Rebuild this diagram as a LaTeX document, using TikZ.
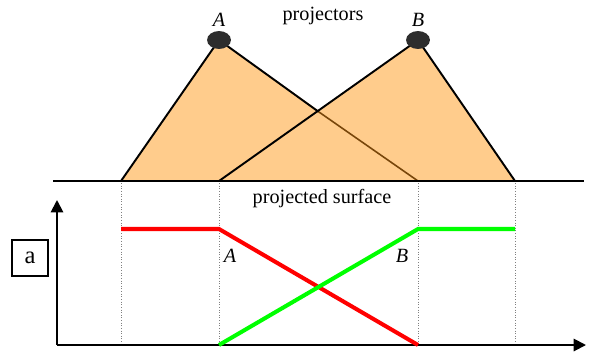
\documentclass[tikz,border=0pt]{standalone}
\usepackage{fontspec}
\setmainfont{Liberation Serif}
\usepackage{xcolor}
\usepackage{tikz}
\usetikzlibrary{calc,arrows.meta,positioning,shapes}
\definecolor{beam}{RGB}{255,204,140}
\definecolor{beamline}{RGB}{120,70,10}
\definecolor{lamp}{RGB}{45,45,45}

\begin{document}
\begin{tikzpicture}[x=0.02cm,y=-0.02cm,
    edge/.style={line width=1.1pt,line join=round},
    guide/.style={densely dotted,gray,line width=0.5pt},
    ramp/.style={line width=2.3pt},
    axis/.style={line width=1.1pt,-{Triangle[length=7pt,width=7pt]}},
    lbl/.style={font=\fontsize{11.5}{13}\selectfont}]
      \useasboundingbox (0,0) rectangle (597,358);
      % projectors and their beams
      \coordinate (pA) at (219,40);
      \coordinate (pB) at (418,40);
      \coordinate (s1) at (121,181);
      \coordinate (s2) at (219,181);
      \coordinate (s3) at (418,181);
      \coordinate (s4) at (515,181);
      \coordinate (x) at (318.5,111.7);
      \fill[beam] (pA) -- (s1) -- (s3) -- cycle;
      \fill[beam] (pB) -- (s2) -- (s4) -- cycle;
      \draw[edge] (s1) -- (pA) -- (x);
      \draw[beamline,line width=0.9pt] (x) -- (s3);
      \draw[edge] (s2) -- (pB) -- (s4);
      \node[ellipse,fill=lamp,minimum width=12pt*0.567*2,minimum height=9pt*0.567*2,inner sep=0pt] (lampA) at (pA) {};
      \node[ellipse,fill=lamp,minimum width=12pt*0.567*2,minimum height=9pt*0.567*2,inner sep=0pt] (lampB) at (pB) {};
      \node[lbl,font=\fontsize{11.5}{13}\selectfont\itshape] (nameA) at (219,20) {A};
      \node[lbl,font=\fontsize{11.5}{13}\selectfont\itshape] (nameB) at (418,20) {B};
      \node[lbl] (proj) at (323,16) {projectors};
      % projected surface
      \coordinate (sl) at (53,181);
      \coordinate (sr) at (584,181);
      \draw[line width=1.7pt] (sl) -- (sr);
      \node[lbl] (surf) at (322,199) {projected surface};
      % guides down to the plot
      \foreach \xx in {121,219,418,515}
        \draw[guide] (\xx,183) -- (\xx,344);
      % axes
      \coordinate (o) at (57,345);
      \coordinate (yt) at (57,200);
      \coordinate (xt) at (586,345);
      \draw[axis] (o) -- (yt);
      \draw[axis] (o) -- (xt);
      \node[draw,line width=0.6pt,minimum width=36*0.02cm,minimum height=36*0.02cm,inner sep=0pt,
        font=\fontsize{14}{16}\selectfont] (a) at (30,258) {a};
      % blending ramps
      \coordinate (r1) at (121,229);
      \coordinate (r2) at (219,229);
      \coordinate (r3) at (418,345);
      \coordinate (g1) at (219,345);
      \coordinate (g2) at (418,229);
      \coordinate (g3) at (515,229);
      \draw[ramp,red] (r1) -- (r2) -- (r3);
      \draw[ramp,green] (g1) -- (g2) -- (g3);
      \node[lbl,font=\fontsize{11.5}{13}\selectfont\itshape] (rampA) at (230,256) {A};
      \node[lbl,font=\fontsize{11.5}{13}\selectfont\itshape] (rampB) at (402,256) {B};
    \end{tikzpicture}
\end{document}
